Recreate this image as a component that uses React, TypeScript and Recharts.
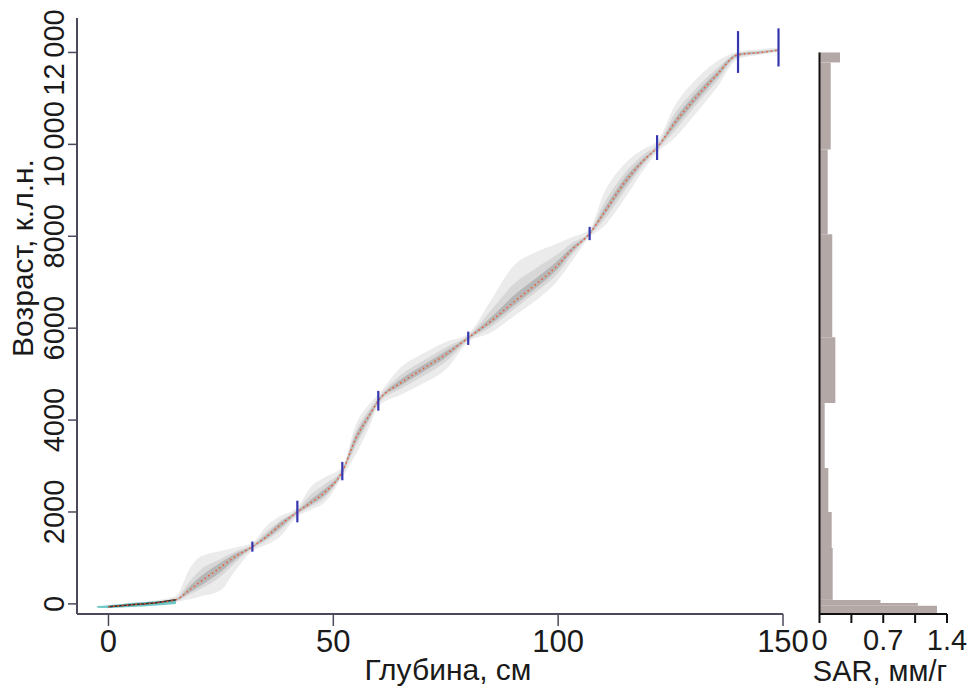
import React from 'react';
import {
  ComposedChart,
  Area,
  Line,
  Scatter,
  ErrorBar,
  XAxis,
  YAxis,
  ReferenceArea,
  ReferenceLine,
  Label,
} from 'recharts';

// ---- Age-depth model (depth in cm, age in cal yr BP) ----
const depthCm = [0, 5, 10, 15, 18, 20, 25, 28, 32, 35, 38, 42, 45, 48, 52, 55, 58, 60, 65, 70, 75, 80, 85, 90, 95, 100, 103, 107, 110, 115, 119, 122, 126, 130, 135, 140, 145, 149];
const medianAge = [-60, -20, 20, 90, 300, 450, 800, 1020, 1246, 1450, 1700, 2000, 2200, 2420, 2880, 3600, 4100, 4420, 4810, 5120, 5430, 5790, 6150, 6560, 6950, 7380, 7700, 8060, 8480, 9200, 9650, 9930, 10480, 10950, 11480, 11950, 12000, 12050];
const outerLo = [-90, -60, -20, 40, 100, 150, 300, 700, 1150, 1280, 1450, 1900, 2050, 2200, 2760, 3250, 3850, 4300, 4550, 4800, 5100, 5700, 5900, 6250, 6600, 7050, 7450, 7980, 8200, 8850, 9450, 9820, 10150, 10600, 11200, 11860, 11950, 12010];
const outerHi = [-30, 20, 70, 170, 760, 1000, 1150, 1220, 1330, 1680, 1900, 2100, 2550, 2750, 2990, 3900, 4350, 4560, 5150, 5450, 5700, 5880, 6600, 7350, 7650, 7850, 7980, 8150, 8900, 9600, 9900, 10060, 10850, 11350, 11780, 12020, 12070, 12110];
const midLo = [-75, -40, 0, 60, 200, 300, 600, 880, 1200, 1370, 1580, 1950, 2120, 2300, 2820, 3430, 3980, 4360, 4680, 4960, 5270, 5740, 6020, 6400, 6780, 7200, 7580, 8020, 8330, 9020, 9550, 9870, 10300, 10780, 11340, 11900, 11970, 12030];
const midHi = [-45, 0, 45, 130, 480, 700, 980, 1130, 1290, 1560, 1800, 2050, 2380, 2600, 2940, 3760, 4230, 4490, 4980, 5290, 5580, 5840, 6380, 6950, 7300, 7620, 7850, 8100, 8680, 9400, 9780, 9990, 10680, 11150, 11630, 11990, 12040, 12080];
const coreLo = [-68, -30, 10, 75, 250, 370, 700, 950, 1225, 1410, 1640, 1975, 2160, 2360, 2850, 3520, 4040, 4390, 4750, 5050, 5360, 5765, 6090, 6480, 6870, 7300, 7650, 8040, 8420, 9110, 9610, 9910, 10400, 10870, 11420, 11930, 11985, 12040];
const coreHi = [-52, -10, 32, 105, 380, 560, 900, 1080, 1265, 1500, 1760, 2025, 2270, 2500, 2910, 3680, 4160, 4450, 4890, 5200, 5500, 5815, 6230, 6700, 7080, 7480, 7760, 8080, 8560, 9290, 9700, 9950, 10560, 11040, 11550, 11975, 12020, 12065];

// surface (modern) age estimate, cyan band
const cyanDepth = [-2.5, 0, 5, 10, 15, 19.5];
const cyanLo = [-85, -90, -70, -40, 0, 35];
const cyanHi = [-45, -30, 20, 50, 85, 70];

// dated levels (calibrated ranges, blue bars)
const dateDepth = [32, 42, 52, 60, 80, 107, 122, 140, 149];
const dateAge = [1246, 2010, 2890, 4420, 5780, 8060, 9930, 12010, 12110];
const dateErr = [110, 235, 200, 215, 145, 145, 270, 455, 415];

// axis ticks
const depthTicks = [0, 50, 100, 150];
const ageTicks = [0, 2000, 4000, 6000, 8000, 10000, 12000];

// ---- SAR panel ----
const sarAgeTop = [12000, 11783, 9891, 8043, 5804, 4370, 2957, 2000, 1217, 87, 22, -43];
const sarAgeBottom = [11783, 9891, 8043, 5804, 4370, 2957, 2000, 1217, 87, 22, -43, -200];
const sarValue = [0.225, 0.123, 0.09, 0.14, 0.174, 0.057, 0.097, 0.134, 0.145, 0.67, 1.08, 1.29];
const sarTicks = [0, 0.35, 0.7, 1.05, 1.4];
const sarLabelled = [0, 0.7, 1.4];

// ---- build tables ----
const allDepths = Array.from(new Set([...depthCm, ...cyanDepth])).sort((a, b) => a - b);
const modelRows = allDepths.map((d) => {
  const i = depthCm.indexOf(d);
  const c = cyanDepth.indexOf(d);
  const row: any = { depth: d };
  if (i >= 0) {
    row.median = medianAge[i];
    row.outer = [outerLo[i], outerHi[i]];
    row.mid = [midLo[i], midHi[i]];
    row.core = [coreLo[i], coreHi[i]];
    if (d <= 15) row.early = medianAge[i];
  }
  if (c >= 0) row.cyan = [cyanLo[c], cyanHi[c]];
  return row;
});
const dateRows = dateDepth.map((d, i) => ({ depth: d, age: dateAge[i], err: dateErr[i] }));
const sarRows = sarValue.map((v, i) => ({ top: sarAgeTop[i], bottom: sarAgeBottom[i], value: v }));

const AGE_DOMAIN: [number, number] = [-220, 12750];
const SANS = '"Liberation Sans", Arial, sans-serif';
const AXIS_COLOR = '#4a4a5a';

const fmtAge = (v: number) =>
  v >= 10000 ? `${Math.floor(v / 1000)}\u2009${String(v % 1000).padStart(3, '0')}` : String(v);

const AgeTick = (props: any) => {
  const { x, y, payload } = props;
  return (
    <text
      x={x}
      y={y}
      transform={`rotate(-90, ${x}, ${y})`}
      textAnchor="middle"
      fontFamily={SANS}
      fontSize={29}
      fill="#1a1a1a"
    >
      {fmtAge(payload.value)}
    </text>
  );
};

const DepthTick = (props: any) => {
  const { x, y, payload } = props;
  return (
    <text x={x} y={y} dy={24} textAnchor="middle" fontFamily={SANS} fontSize={31} fill="#1a1a1a">
      {payload.value}
    </text>
  );
};

const SarTick = (props: any) => {
  const { x, y, payload } = props;
  if (!sarLabelled.includes(payload.value)) return <g />;
  return (
    <text x={x} y={y} dy={23} textAnchor="middle" fontFamily={SANS} fontSize={29} fill="#1a1a1a">
      {payload.value}
    </text>
  );
};

const EmptyShape = () => <g />;

export default function App() {
  return (
    <div style={{ position: 'absolute', left: 0, top: 0, width: 971, height: 689, background: '#fff' }}>
      <div style={{ position: 'absolute', left: 0, top: 0 }}>
        <ComposedChart width={830} height={689} data={modelRows} margin={{ top: 18, right: 47, bottom: 0, left: 0 }}>
          <XAxis
            dataKey="depth"
            type="number"
            domain={[-7, 150]}
            ticks={depthTicks}
            allowDataOverflow
            height={75}
            tickSize={12}
            tickMargin={2}
            axisLine={{ stroke: AXIS_COLOR, strokeWidth: 2 }}
            tickLine={{ stroke: AXIS_COLOR, strokeWidth: 1.5 }}
            tick={<DepthTick />}
          >
            <Label
              content={() => (
                <text x={448} y={680} textAnchor="middle" fontFamily={SANS} fontSize={30} fill="#1a1a1a">
                  Глубина, см
                </text>
              )}
            />
          </XAxis>
          <YAxis
            type="number"
            domain={AGE_DOMAIN}
            ticks={ageTicks}
            allowDataOverflow
            width={77}
            tickSize={9}
            tickMargin={4}
            axisLine={{ stroke: AXIS_COLOR, strokeWidth: 2 }}
            tickLine={{ stroke: AXIS_COLOR, strokeWidth: 1.5 }}
            tick={<AgeTick />}
          >
            <Label
              content={() => (
                <text
                  x={33}
                  y={258}
                  transform="rotate(-90, 33, 258)"
                  textAnchor="middle"
                  fontFamily={SANS}
                  fontSize={30}
                  fill="#1a1a1a"
                >
                  Возраст, к.л.н.
                </text>
              )}
            />
          </YAxis>
          <Area dataKey="outer" type="monotone" connectNulls stroke="none" fill="#d2d2d2" fillOpacity={0.45} isAnimationActive={false} />
          <Area dataKey="mid" type="monotone" connectNulls stroke="none" fill="#a8a8a8" fillOpacity={0.3} isAnimationActive={false} />
          <Area dataKey="core" type="monotone" connectNulls stroke="none" fill="#6a6a6a" fillOpacity={0.3} isAnimationActive={false} />
          <Area dataKey="cyan" type="monotone" stroke="none" fill="#36b4b0" fillOpacity={0.7} isAnimationActive={false} />
          <Line dataKey="early" type="monotone" connectNulls stroke="#3a2a2a" strokeWidth={1.5} dot={false} isAnimationActive={false} />
          <Line
            dataKey="median"
            type="monotone"
            connectNulls
            stroke="#ec5a30"
            strokeWidth={1.5}
            strokeDasharray="1.5 3"
            dot={false}
            isAnimationActive={false}
          />
          <Scatter data={dateRows} dataKey="age" shape={<EmptyShape />} isAnimationActive={false}>
            <ErrorBar dataKey="err" direction="y" width={0} stroke="#3535b0" strokeWidth={2.2} isAnimationActive={false} />
          </Scatter>
        </ComposedChart>
      </div>
      <div style={{ position: 'absolute', left: 780, top: 0 }}>
        <ComposedChart width={191} height={689} data={sarRows} margin={{ top: 18, right: 24, bottom: 0, left: 39.5 }}>
          <XAxis
            type="number"
            dataKey="value"
            domain={[0, 1.4]}
            ticks={sarTicks}
            allowDataOverflow
            height={75}
            tickSize={9}
            tickMargin={4}
            axisLine={{ stroke: '#111', strokeWidth: 2 }}
            tickLine={{ stroke: '#111', strokeWidth: 2 }}
            tick={<SarTick />}
          >
            <Label
              content={() => (
                <text x={100} y={681} textAnchor="middle" fontFamily={SANS} fontSize={29} fill="#1a1a1a">
                  SAR, мм/г
                </text>
              )}
            />
          </XAxis>
          <YAxis type="number" domain={AGE_DOMAIN} allowDataOverflow hide />
          {sarRows.map((r, i) => (
            <ReferenceArea
              key={i}
              x1={0}
              x2={r.value}
              y1={r.bottom}
              y2={r.top}
              fill="#b4a8a7"
              fillOpacity={1}
              stroke="none"
              ifOverflow="visible"
            />
          ))}
          <ReferenceLine
            segment={[
              { x: 0, y: AGE_DOMAIN[0] },
              { x: 0, y: sarAgeTop[0] },
            ]}
            stroke="#111"
            strokeWidth={2}
            ifOverflow="visible"
          />
        </ComposedChart>
      </div>
    </div>
  );
}
